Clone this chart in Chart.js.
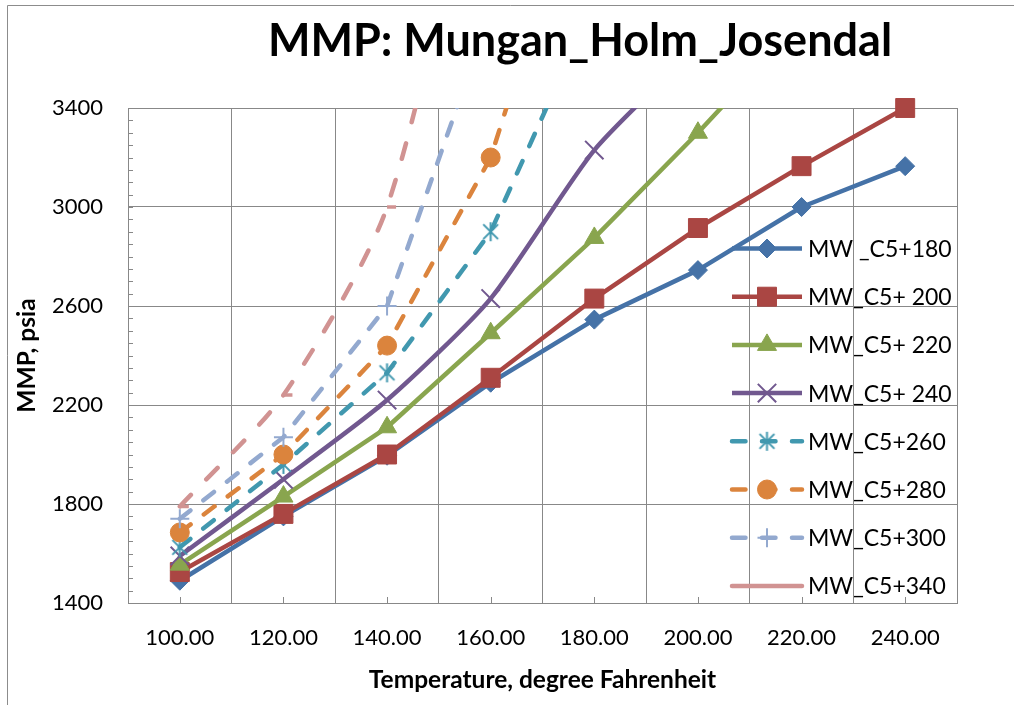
<!DOCTYPE html>
<html>
<head>
<meta charset="utf-8">
<title>MMP: Mungan_Holm_Josendal</title>
<script src="https://cdn.jsdelivr.net/npm/chart.js@4.4.1/dist/chart.umd.min.js"></script>
<style>
  html, body { margin: 0; padding: 0; background: #ffffff; }
  #wrap { position: relative; width: 1014px; height: 705px; }
</style>
</head>
<body>
<div id="wrap"><canvas id="mmpChart" width="1014" height="705"></canvas></div>
<script>
/* ---------------------------------------------------------
   Data
   --------------------------------------------------------- */
var temperatureLabels = ['100.00', '120.00', '140.00', '160.00', '180.00', '200.00', '220.00', '240.00'];
var mmpTicks = [1400, 1800, 2200, 2600, 3000, 3400];

var seriesNames = ['MW _C5+180', 'MW_C5+ 200', 'MW_C5+ 220', 'MW_C5+ 240',
                   'MW_C5+260', 'MW_C5+280', 'MW_C5+300', 'MW_C5+340'];

// values above 3400 run off the top of the plot and are clipped
var mmpC5p180 = [1490, 1750, 1995, 2290, 2545, 2745, 3000, 3165];
var mmpC5p200 = [1525, 1760, 2000, 2310, 2630, 2915, 3165, 3400];
var mmpC5p220 = [1555, 1830, 2110, 2490, 2875, 3300, 3750, null];
var mmpC5p240 = [1590, 1900, 2220, 2630, 3230, 3650, null, null];
var mmpC5p260 = [1625, 1960, 2330, 2900, 3830, null, null, null];
var mmpC5p280 = [1685, 2000, 2440, 3200, 4520, null, null, null];
var mmpC5p300 = [1740, 2070, 2600, 3790, null, null, null, null];
var mmpC5p340 = [1790, 2240, 3000, 4720, null, null, null, null];

var chartTitle = 'MMP: Mungan_Holm_Josendal';
var xTitle = 'Temperature, degree Fahrenheit';
var yTitle = 'MMP, psia';

/* ---------------------------------------------------------
   Styles
   --------------------------------------------------------- */
var FONT = 'Lato';
var GRID = '#888888';

function makeAsterisk(color, size, width) {
  var c = document.createElement('canvas');
  c.width = size; c.height = size;
  var g = c.getContext('2d');
  var m = size / 2, r = size / 2 - 1, d = r * 0.78;
  g.strokeStyle = color;
  g.lineWidth = width;
  g.beginPath();
  g.moveTo(m, m - r); g.lineTo(m, m + r);
  g.moveTo(m - d, m - d); g.lineTo(m + d, m + d);
  g.moveTo(m + d, m - d); g.lineTo(m - d, m + d);
  g.stroke();
  return c;
}

function lineSeries(i, data, color, marker, radius, pointBorder, dash, tension) {
  return {
    label: seriesNames[i],
    data: data,
    borderColor: color,
    backgroundColor: color,
    borderWidth: 4.5,
    borderDash: dash || [],
    borderCapStyle: dash ? 'round' : 'butt',
    borderJoinStyle: 'round',
    tension: tension || 0,
    pointStyle: marker,
    pointRadius: radius,
    pointHoverRadius: radius,
    pointBorderWidth: pointBorder,
    pointBorderColor: color,
    pointBackgroundColor: color,
    order: 7 - i,
    clip: i === 1 ? false : undefined
  };
}

var longDash = [13.5, 16.5];

var datasets = [
  lineSeries(0, mmpC5p180, '#4572A7', 'rectRot', 9.5, 1),
  lineSeries(1, mmpC5p200, '#AA4643', 'rect', 13.4, 1),
  lineSeries(2, mmpC5p220, '#89A54E', 'triangle', 11, 1),
  lineSeries(3, mmpC5p240, '#71588F', 'crossRot', 13, 2, null, 0.22),
  lineSeries(4, mmpC5p260, '#4198AF', makeAsterisk('#4198AF', 21, 2), 10, 1, longDash),
  lineSeries(5, mmpC5p280, '#DB843D', 'circle', 9.5, 1, longDash),
  lineSeries(6, mmpC5p300, '#93A9CF', 'cross', 9.5, 2, longDash),
  lineSeries(7, mmpC5p340, '#D19392', 'dash', 9, 3.5, [16, 22], 0.25)
];

/* ---------------------------------------------------------
   Plugins: outer frame, minor ticks, title, legend inside plot
   --------------------------------------------------------- */
var framePlugin = {
  id: 'frame',
  beforeDraw: function (chart) {
    var ctx = chart.ctx;
    ctx.save();
    ctx.fillStyle = '#ffffff';
    ctx.fillRect(0, 0, chart.width, chart.height);
    ctx.strokeStyle = '#8c8c8c';
    ctx.lineWidth = 1;
    ctx.beginPath();
    ctx.moveTo(7.5, chart.height);
    ctx.lineTo(7.5, 5.5);
    ctx.lineTo(chart.width, 5.5);
    ctx.stroke();
    ctx.restore();
  },
  beforeDatasetsDraw: function (chart) {
    var ctx = chart.ctx, xs = chart.scales.x, ys = chart.scales.y, area = chart.chartArea;
    ctx.save();
    ctx.strokeStyle = GRID;
    ctx.lineWidth = 1;
    ctx.beginPath();
    for (var v = ys.min; v <= ys.max; v += 50) {
      var py = Math.round(ys.getPixelForValue(v)) + 0.5;
      ctx.moveTo(area.left, py);
      ctx.lineTo(area.left + 5, py);
    }
    for (var i = 0; i < temperatureLabels.length; i++) {
      var px = Math.round(xs.getPixelForValue(i)) + 0.5;
      ctx.moveTo(px, area.bottom);
      ctx.lineTo(px, area.bottom - 6);
    }
    ctx.stroke();
    ctx.restore();
  },
  afterDraw: function (chart) {
    var ctx = chart.ctx;
    ctx.save();
    ctx.fillStyle = '#000000';
    ctx.font = 'bold 45px ' + FONT;
    ctx.textAlign = 'center';
    ctx.textBaseline = 'alphabetic';
    ctx.fillText(chartTitle, 580, 56);
    ctx.restore();
  }
};

var insideLegendPlugin = {
  id: 'insideLegend',
  afterDatasetsDraw: function (chart) {
    var ctx = chart.ctx;
    chart.data.datasets.forEach(function (ds, i) {
      var y = 248.5 + i * 48.2;
      ctx.save();
      ctx.strokeStyle = ds.borderColor;
      ctx.lineWidth = ds.borderWidth;
      ctx.lineCap = ds.borderCapStyle;
      ctx.setLineDash(i === 7 ? [] : ds.borderDash);
      ctx.beginPath();
      ctx.moveTo(732, y);
      ctx.lineTo(802, y);
      ctx.stroke();
      ctx.restore();

      if (ds.pointStyle !== 'dash') {
        ctx.save();
        ctx.fillStyle = ds.pointBackgroundColor;
        ctx.strokeStyle = ds.pointBorderColor;
        ctx.lineWidth = ds.pointBorderWidth;
        Chart.helpers.drawPoint(ctx, {
          pointStyle: ds.pointStyle,
          radius: ds.pointRadius,
          rotation: 0,
          borderWidth: ds.pointBorderWidth
        }, 767, y);
        ctx.restore();
      }

      ctx.save();
      ctx.fillStyle = '#000000';
      ctx.font = '23px ' + FONT;
      ctx.textAlign = 'left';
      ctx.textBaseline = 'middle';
      ctx.fillText(ds.label, 808, y + 1);
      ctx.restore();
    });
  }
};

/* ---------------------------------------------------------
   Chart
   --------------------------------------------------------- */
new Chart(document.getElementById('mmpChart'), {
  type: 'line',
  data: { labels: temperatureLabels, datasets: datasets },
  options: {
    responsive: false,
    animation: false,
    devicePixelRatio: 1,
    layout: { padding: { left: 0, top: 108, right: 57, bottom: 0 } },
    elements: { line: { capBezierPoints: false } },
    plugins: {
      legend: { display: false },
      title: { display: false },
      tooltip: { enabled: false }
    },
    scales: {
      x: {
        type: 'category',
        offset: true,
        afterFit: function (scale) { scale.height = 102; },
        grid: { offset: true, color: GRID, lineWidth: 1, drawTicks: false },
        border: { color: GRID, width: 1 },
        ticks: {
          color: '#000000',
          font: { family: FONT, size: 22 },
          padding: 22,
          maxRotation: 0,
          autoSkip: false
        },
        title: {
          display: true,
          text: xTitle,
          color: '#000000',
          font: { family: FONT, size: 24.5, weight: 'bold' },
          padding: { top: 0, bottom: 10 }
        }
      },
      y: {
        type: 'linear',
        min: 1400,
        max: 3400,
        afterFit: function (scale) { scale.width = 128; },
        afterBuildTicks: function (scale) {
          scale.ticks = mmpTicks.map(function (v) { return { value: v }; });
        },
        grid: { color: GRID, lineWidth: 1, drawTicks: false },
        border: { color: GRID, width: 1 },
        ticks: {
          color: '#000000',
          font: { family: FONT, size: 22 },
          padding: 25,
          callback: function (value) { return String(value); }
        },
        title: {
          display: true,
          text: yTitle,
          color: '#000000',
          font: { family: FONT, size: 24.5, weight: 'bold' },
          padding: { top: 12, bottom: 0 }
        }
      }
    }
  },
  plugins: [framePlugin, insideLegendPlugin]
});
</script>
</body>
</html>
